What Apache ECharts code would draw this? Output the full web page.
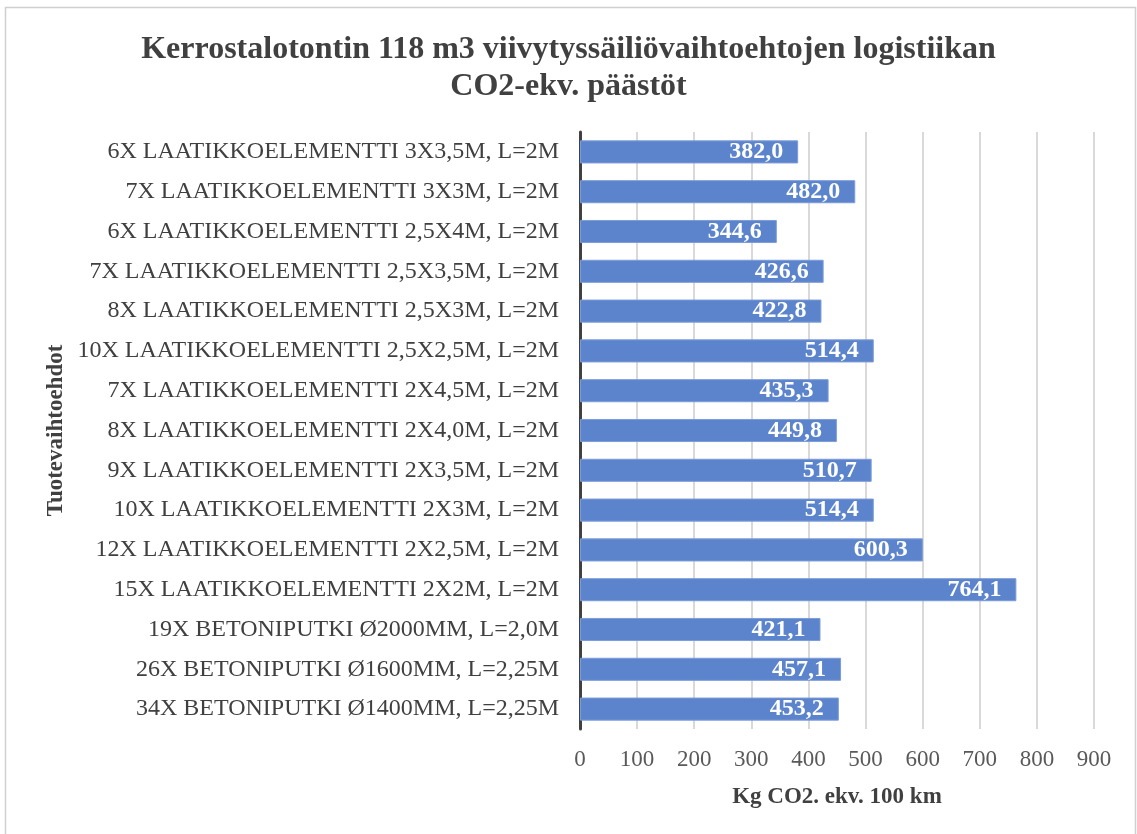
<!DOCTYPE html>
<html>
<head>
<meta charset="utf-8">
<script src="https://cdn.jsdelivr.net/npm/echarts@6/dist/echarts.min.js"></script>
<style>
  html, body { margin: 0; padding: 0; background: #ffffff; }
  #chart { width: 1137px; height: 834px; }
</style>
</head>
<body>
<div id="chart"></div>
<script>
// Product alternatives, listed bottom to top as drawn on the category axis
const categories = [
  '34X BETONIPUTKI Ø1400MM, L=2,25M',
  '26X BETONIPUTKI Ø1600MM, L=2,25M',
  '19X BETONIPUTKI Ø2000MM, L=2,0M',
  '15X LAATIKKOELEMENTTI 2X2M, L=2M',
  '12X LAATIKKOELEMENTTI 2X2,5M, L=2M',
  '10X LAATIKKOELEMENTTI 2X3M, L=2M',
  '9X LAATIKKOELEMENTTI 2X3,5M, L=2M',
  '8X LAATIKKOELEMENTTI 2X4,0M, L=2M',
  '7X LAATIKKOELEMENTTI 2X4,5M, L=2M',
  '10X LAATIKKOELEMENTTI 2,5X2,5M, L=2M',
  '8X LAATIKKOELEMENTTI 2,5X3M, L=2M',
  '7X LAATIKKOELEMENTTI 2,5X3,5M, L=2M',
  '6X LAATIKKOELEMENTTI 2,5X4M, L=2M',
  '7X LAATIKKOELEMENTTI 3X3M, L=2M',
  '6X LAATIKKOELEMENTTI 3X3,5M, L=2M'
];

// Kg CO2-eq per 100 km
const emissions = [
  453.2, 457.1, 421.1, 764.1, 600.3, 514.4, 510.7, 449.8,
  435.3, 514.4, 422.8, 426.6, 344.6, 482.0, 382.0
];

const xTicks = { min: 0, max: 900, interval: 100 };

const chartTitle = 'Kerrostalotontin 118 m3 viivytyssäiliövaihtoehtojen logistiikan\nCO2-ekv. päästöt';
const xAxisName = 'Kg CO2. ekv. 100 km';
const yAxisName = 'Tuotevaihtoehdot';

const serif = '"Liberation Serif", "Times New Roman", serif';
const fmt = v => v.toFixed(1).replace('.', ',');

const chart = echarts.init(document.getElementById('chart'), null, { renderer: 'canvas' });

chart.setOption({
  backgroundColor: '#ffffff',
  animation: false,
  textStyle: { fontFamily: serif },
  graphic: [{
    type: 'rect',
    left: 3, top: 5,
    shape: { width: 1130, height: 835 },
    style: { fill: 'none', stroke: '#d0d0d0', lineWidth: 1.5 },
    silent: true
  }],
  title: {
    text: chartTitle,
    left: 'center',
    top: 26,
    textStyle: {
      fontFamily: serif,
      fontSize: 32,
      fontWeight: 'bold',
      color: '#404040',
      lineHeight: 37
    }
  },
  grid: {
    left: 580,
    right: 43,
    top: 132,
    bottom: 105,
    containLabel: false
  },
  xAxis: {
    type: 'value',
    min: xTicks.min,
    max: xTicks.max,
    interval: xTicks.interval,
    name: xAxisName,
    nameLocation: 'middle',
    nameGap: 57,
    nameTextStyle: { fontFamily: serif, fontSize: 23, fontWeight: 'bold', color: '#404040' },
    axisLine: { show: false },
    axisTick: { show: false },
    axisLabel: { fontFamily: serif, fontSize: 23, color: '#595959', margin: 19 },
    splitLine: { show: true, lineStyle: { color: '#d9d9d9', width: 2 } }
  },
  yAxis: {
    type: 'category',
    data: categories,
    name: yAxisName,
    nameLocation: 'middle',
    nameGap: 512,
    nameRotate: 90,
    nameTextStyle: { fontFamily: serif, fontSize: 23, fontWeight: 'bold', color: '#404040' },
    axisLine: { show: true, lineStyle: { color: '#404040', width: 3 } },
    axisTick: { show: false },
    axisLabel: { fontFamily: serif, fontSize: 24, color: '#404040', margin: 21 }
  },
  series: [{
    type: 'bar',
    data: emissions,
    barCategoryGap: '42%',
    itemStyle: { color: '#5b84cd', borderColor: '#7c9cd8', borderWidth: 1 },
    label: {
      show: true,
      position: 'insideRight',
      distance: 15,
      formatter: p => fmt(p.value),
      fontFamily: serif,
      fontSize: 24,
      fontWeight: 'bold',
      color: '#ffffff'
    }
  }]
});
</script>
</body>
</html>
